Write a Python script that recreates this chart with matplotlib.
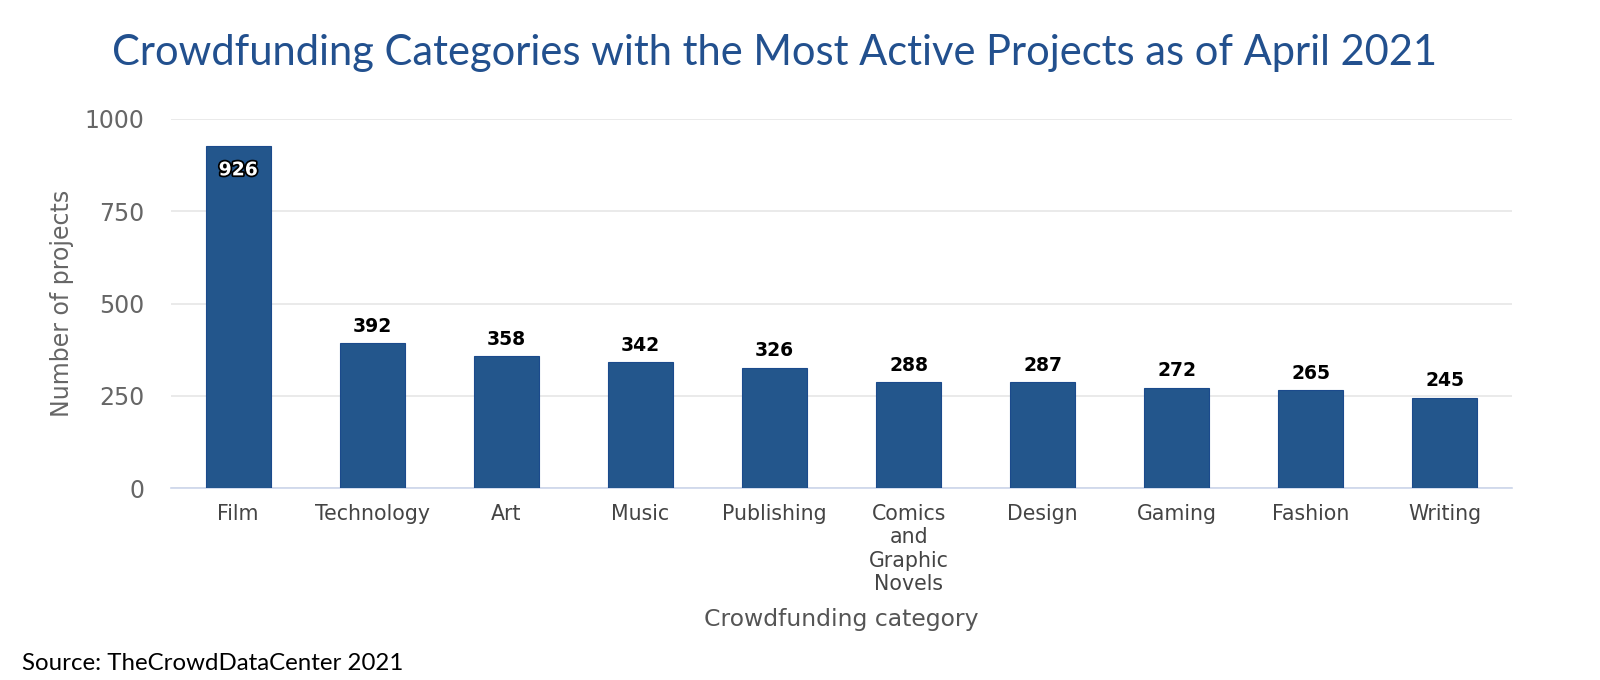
import matplotlib
matplotlib.use("Agg")
from matplotlib import pyplot as plt
import matplotlib.patheffects as pe

categories = ["Film", "Technology", "Art", "Music", "Publishing",
              "Comics\nand\nGraphic\nNovels", "Design", "Gaming", "Fashion", "Writing"]
projects = [926, 392, 358, 342, 326, 288, 287, 272, 265, 245]
yticks = [0, 250, 500, 750, 1000]

fig = plt.figure(figsize=(16, 6.8), dpi=100)
ax = fig.add_axes([0.107, 0.282, 0.838, 0.543])

x = list(range(len(categories)))
ax.bar(x, projects, width=0.485, color='#23568c', edgecolor='#1b4a8c', linewidth=0.8, zorder=3)

for xi, v in zip(x, projects):
    if v > 900:
        ax.text(xi, v - 38, str(v), ha='center', va='top', fontsize=13.5, fontweight='bold',
                color='white', zorder=4,
                path_effects=[pe.withStroke(linewidth=2.5, foreground='black')])
    else:
        ax.text(xi, v + 20, str(v), ha='center', va='bottom', fontsize=13.5,
                fontweight='bold', color='black', zorder=4)

ax.set_xlim(-0.5, len(categories) - 0.5)
ax.set_ylim(0, 1000)
ax.set_yticks(yticks)
ax.set_yticklabels([str(t) for t in yticks], fontsize=17, color='#666666')
ax.set_xticks(x)
ax.set_xticklabels(categories, fontsize=14.8, color='#444444', linespacing=1.22)
ax.tick_params(axis='both', length=0)
ax.tick_params(axis='x', pad=11)
ax.tick_params(axis='y', pad=19)
ax.grid(axis='y', color='#e6e6e6', linewidth=1.2, zorder=0)
for s in ['top', 'right', 'left']:
    ax.spines[s].set_visible(False)
ax.spines['bottom'].set_color('#ccd6eb')
ax.spines['bottom'].set_linewidth(1.2)

ax.set_ylabel('Number of projects', fontsize=17, color='#666666', labelpad=8)
ax.set_xlabel('Crowdfunding category', fontsize=16.9, color='#555555', labelpad=10)

fig.text(0.484, 0.922, 'Crowdfunding Categories with the Most Active Projects as of April 2021',
         ha='center', va='center', fontsize=30, color='#22508e', family='Lato')
fig.text(0.014, 0.024, 'Source: TheCrowdDataCenter 2021', ha='left', va='center',
         fontsize=17.3, color='black', family='Lato')

plt.savefig('out.png', dpi=100)
